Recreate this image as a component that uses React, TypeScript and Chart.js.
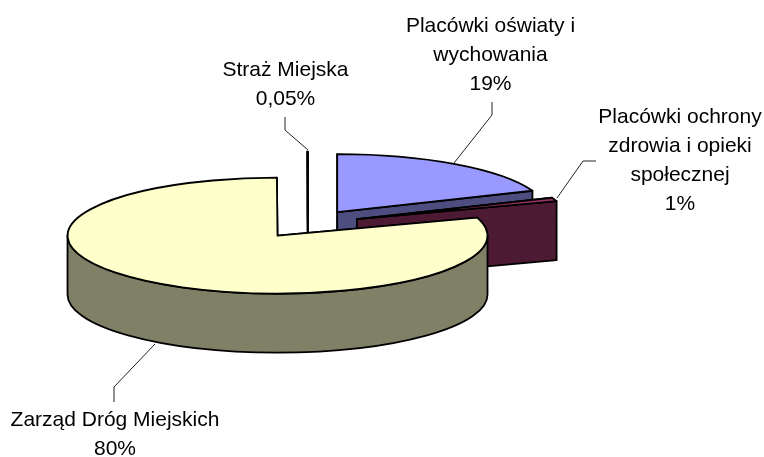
import React, { useEffect, useRef } from "react";
import { Chart, registerables } from "chart.js";

Chart.register(...registerables);

const categories = [
  "Placówki oświaty i wychowania",
  "Placówki ochrony zdrowia i opieki społecznej",
  "Zarząd Dróg Miejskich",
  "Straż Miejska",
];
const shares = [19, 1, 80, 0.05];
const topColors = ["#9999FF", "#993366", "#FFFFCC", "#FFFFFF"];
const wallColors = ["#4D4D80", "#4D1A33", "#808066", "#808080"];
const labelLines = [
  ["Placówki oświaty i", "wychowania", "19%"],
  ["Placówki ochrony", "zdrowia i opieki", "społecznej", "1%"],
  ["Zarząd Dróg Miejskich", "80%"],
  ["Straż Miejska", "0,05%"],
];

// layout of the labels (not data)
const labelAnchors = [
  { x: 490.5, y: 26 },
  { x: 680, y: 117 },
  { x: 115, y: 420 },
  { x: 285.5, y: 70 },
];
const leaders = [
  [[492, 102], [492, 115], [454, 163]],
  [[596, 161], [583, 161], [557, 198]],
  [[114, 402], [114, 387], [155, 344]],
  [[285, 117], [285, 130], [308, 150]],
];
const drawOrder = [3, 0, 1, 2];
const TILT = 0.276;
const DEPTH = 59;
const EXPLODE = 52;
const LINE_H = 29;
const FONT = '21px "Liberation Sans", Arial, sans-serif';

const pie3d = {
  id: "pie3d",
  beforeDatasetsDraw(chart: any) {
    const ctx: CanvasRenderingContext2D = chart.ctx;
    const arcs = chart.getDatasetMeta(0).data;
    ctx.save();
    ctx.lineJoin = "round";
    for (const i of drawOrder) {
      const arc = arcs[i];
      const { x, y, startAngle: a0, endAngle: a1, outerRadius: r } = arc;
      const mid = (a0 + a1) / 2;
      const cx = x + EXPLODE * Math.cos(mid);
      const cy = y + TILT * EXPLODE * Math.sin(mid);
      const px = (a: number) => cx + r * Math.cos(a);
      const py = (a: number) => cy + TILT * r * Math.sin(a);
      const ry = r * TILT;

      ctx.strokeStyle = "#000";
      ctx.lineWidth = 1.8;
      ctx.fillStyle = wallColors[i];

      // side faces
      for (const a of [a0, a1]) {
        ctx.beginPath();
        ctx.moveTo(cx, cy);
        ctx.lineTo(px(a), py(a));
        ctx.lineTo(px(a), py(a) + DEPTH);
        ctx.lineTo(cx, cy + DEPTH);
        ctx.closePath();
        ctx.fill();
        ctx.stroke();
      }
      // outer wall, front half only
      const f0 = Math.max(a0, 0);
      const f1 = Math.min(a1, Math.PI);
      if (f1 > f0) {
        ctx.beginPath();
        ctx.ellipse(cx, cy, r, ry, 0, f0, f1);
        ctx.lineTo(px(f1), py(f1) + DEPTH);
        ctx.ellipse(cx, cy + DEPTH, r, ry, 0, f1, f0, true);
        ctx.closePath();
        ctx.fill();
        ctx.stroke();
      }
      // top face: the library's own arc, squashed
      ctx.save();
      ctx.translate(cx, cy);
      ctx.scale(1, TILT);
      ctx.translate(-x, -y);
      arc.draw(ctx);
      ctx.restore();
      ctx.beginPath();
      ctx.moveTo(cx, cy);
      ctx.ellipse(cx, cy, r, ry, 0, a0, a1);
      ctx.closePath();
      ctx.stroke();
    }

    // leader lines
    ctx.strokeStyle = "#222";
    ctx.lineWidth = 1;
    for (const pts of leaders) {
      ctx.beginPath();
      pts.forEach((p, j) => (j ? ctx.lineTo(p[0], p[1]) : ctx.moveTo(p[0], p[1])));
      ctx.stroke();
    }
    // labels
    ctx.fillStyle = "#000";
    ctx.font = FONT;
    ctx.textAlign = "center";
    ctx.textBaseline = "middle";
    labelLines.forEach((lines, i) => {
      lines.forEach((t, j) => ctx.fillText(t, labelAnchors[i].x, labelAnchors[i].y + j * LINE_H));
    });
    ctx.restore();
    return false;
  },
};

export default function App() {
  const ref = useRef<HTMLCanvasElement>(null);
  useEffect(() => {
    const chart = new Chart(ref.current!, {
      type: "pie",
      data: {
        labels: categories,
        datasets: [{ data: shares, backgroundColor: topColors, borderWidth: 0 }],
      },
      options: {
        animation: false,
        responsive: false,
        radius: 210,
        layout: { padding: { left: 0, top: 0, right: 148, bottom: 9 } },
        plugins: { legend: { display: false }, tooltip: { enabled: false } },
      },
      plugins: [pie3d],
    } as any);
    return () => chart.destroy();
  }, []);
  return (
    <canvas
      ref={ref}
      width={764}
      height={457}
      style={{ position: "absolute", left: 0, top: 0, display: "block", background: "#fff" }}
    />
  );
}
